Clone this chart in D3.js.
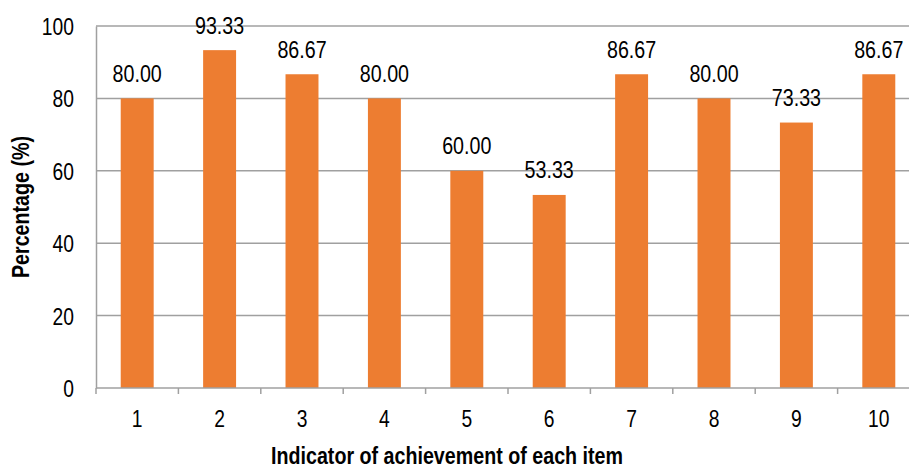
<!DOCTYPE html>
<html>
<head>
<meta charset="utf-8">
<script src="https://cdn.jsdelivr.net/npm/d3@7"></script>
<style>
  body { margin: 0; background: #fff; }
  svg text { font-family: "Liberation Sans", Arial, sans-serif; fill: #000; }
</style>
</head>
<body>
<svg id="chart" width="909" height="468"></svg>
<script>
// data
const items = ['1', '2', '3', '4', '5', '6', '7', '8', '9', '10']
const percentages = [80.00, 93.33, 86.67, 80.00, 60.00, 53.33, 86.67, 80.00, 73.33, 86.67]
const yTicks = [0, 20, 40, 60, 80, 100]

const svg = d3.select('#chart')
const plotLeft = 96, plotRight = 920, plotTop = 26, plotBottom = 388
const gridColor = '#a0a0a0'
const squeeze = 0.82 // narrow face look (no Arial Narrow installed)

const x = d3.scaleBand()
  .domain(items)
  .range([plotLeft, plotRight])
  .paddingInner(0.6)
  .paddingOuter(0.3)

const y = d3.scaleLinear()
  .domain([0, 100])
  .range([plotBottom, plotTop])

// horizontal gridlines
svg.append('g')
  .selectAll('line')
  .data(yTicks.filter(d => d > 0))
  .join('line')
  .attr('x1', plotLeft)
  .attr('x2', plotRight)
  .attr('y1', d => y(d))
  .attr('y2', d => y(d))
  .attr('stroke', gridColor)
  .attr('stroke-width', 1.5)

// y axis
const yAxis = svg.append('g')
  .attr('transform', `translate(${plotLeft},0)`)
  .call(d3.axisLeft(y).tickValues(yTicks).tickSize(0))
yAxis.attr('font-family', null).attr('font-size', null)
yAxis.select('.domain').attr('stroke', gridColor).attr('stroke-width', 1.5)
yAxis.selectAll('text')
  .attr('x', 0)
  .attr('transform', `translate(-22,0) scale(${squeeze},1)`)
  .attr('font-size', 23.5)
  .attr('dy', '0.36em')

// bars
svg.append('g')
  .selectAll('rect')
  .data(percentages)
  .join('rect')
  .attr('x', (d, i) => x(items[i]))
  .attr('y', d => y(d))
  .attr('width', x.bandwidth())
  .attr('height', d => y(0) - y(d))
  .attr('fill', '#ED7D31')

// value labels
svg.append('g')
  .selectAll('text')
  .data(percentages)
  .join('text')
  .attr('transform', (d, i) => `translate(${x(items[i]) + x.bandwidth() / 2},${y(d) - 16.5}) scale(${squeeze},1)`)
  .attr('text-anchor', 'middle')
  .attr('font-size', 24)
  .text(d => d.toFixed(2))

// x axis line and category boundary ticks
const half = x.step() * x.paddingOuter()
const bounds = items.map(d => x(d) - half).concat([x(items[items.length - 1]) + x.bandwidth() + half])
const xg = svg.append('g')
xg.append('line')
  .attr('x1', plotLeft).attr('x2', plotRight)
  .attr('y1', plotBottom).attr('y2', plotBottom)
  .attr('stroke', gridColor).attr('stroke-width', 1.5)
xg.selectAll('.tk')
  .data(bounds)
  .join('line')
  .attr('class', 'tk')
  .attr('x1', d => d).attr('x2', d => d)
  .attr('y1', plotBottom).attr('y2', plotBottom + 6)
  .attr('stroke', gridColor).attr('stroke-width', 1.5)
xg.selectAll('text')
  .data(items)
  .join('text')
  .attr('transform', d => `translate(${x(d) + x.bandwidth() / 2},427) scale(${squeeze},1)`)
  .attr('text-anchor', 'middle')
  .attr('font-size', 23.5)
  .text(d => d)

// axis titles
svg.append('text')
  .attr('transform', `translate(447,464) scale(${squeeze},1)`)
  .attr('text-anchor', 'middle')
  .attr('font-size', 24)
  .attr('font-weight', 'bold')
  .text('Indicator of achievement of each item')

svg.append('text')
  .attr('transform', `translate(29,${(plotTop + plotBottom) / 2}) rotate(-90) scale(${squeeze},1)`)
  .attr('text-anchor', 'middle')
  .attr('font-size', 24)
  .attr('font-weight', 'bold')
  .text('Percentage (%)')
</script>
</body>
</html>
